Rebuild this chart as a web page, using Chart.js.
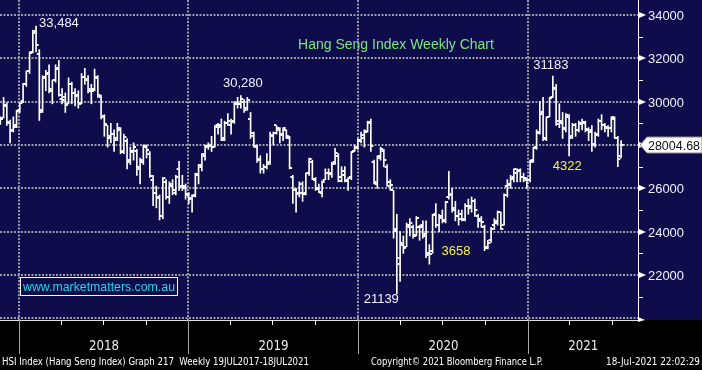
<!DOCTYPE html>
<html>
<head>
<meta charset="utf-8">
<script src="https://cdn.jsdelivr.net/npm/chart.js@4.4.1/dist/chart.umd.min.js"></script>
<style>
    html, body { margin: 0; padding: 0; background: #000; }
    canvas { display: block; }
</style>
</head>
<body>
<canvas id="hsi-chart" width="702" height="370"></canvas>
<script>
// Hang Seng weekly bars, first bar = week ending 17 Nov 2017, last = 16 Jul 2021
var firstWeek = '2017-11-17';

var opens = [
    29150, 29250, 29800, 29000, 28700, 28900, 29600, 30050, 30800, 31400,
    32300, 33250, 32200, 29600, 31100, 31300, 30500, 31000, 31550, 30100,
    30200, 29900, 30800, 30400, 30300, 29900, 31150, 31000, 30500, 30600,
    31100, 30200, 29300, 28900, 28400, 28500, 28300, 28700, 27700, 28200,
    27300, 27700, 27700, 26900, 27200, 27900, 27600, 26400, 25800, 25600,
    24700, 26300, 25600, 26100, 25800, 26900, 26100, 26000, 25700, 25550,
    25700, 26600, 27000, 27500, 27950, 28000, 27900, 28900, 28900, 28300,
    29000, 28900, 29100, 29900, 29900, 30000, 29700, 29200, 28400, 27900,
    27300, 26900, 27000, 27200, 28400, 28900, 28700, 28500, 28700, 28300,
    26500, 25900, 25800, 25800, 25800, 26700, 27200, 26400, 26000, 25800,
    26400, 26700, 26700, 27200, 27500, 26500, 26800, 26400, 26500, 27700,
    27900, 28200, 28300, 28600, 29000, 27200, 26200, 27500, 27700, 27000,
    26300, 25900, 24100, 22500, 23400, 23300, 24200, 24200, 23800, 24200,
    24300, 23900, 23000, 23100, 24800, 24300, 24700, 24500, 25600, 25700,
    25000, 24700, 24800, 24600, 25200, 25200, 25400, 24700, 24600, 24200,
    23300, 23600, 24300, 24500, 24900, 24300, 26100, 26200, 26500, 26700,
    26800, 26500, 26400, 26400, 27300, 27900, 28600, 29500, 28300, 29300,
    30200, 30600, 29100, 29000, 28800, 29300, 28400, 28900, 28700, 29000,
    29000, 28700, 28700, 28000, 28500, 29100, 28900, 28800, 28800, 29200,
    28300, 27500
];
var highs = [
    29300, 30200, 29950, 29150, 29300, 29600, 29950, 30850, 31420, 32300,
    33300, 33484, 32400, 31200, 31450, 31700, 31000, 31700, 31900, 30600,
    30400, 31100, 30900, 30600, 30500, 31300, 31540, 31200, 30800, 31500,
    31200, 30300, 29400, 28900, 29000, 28700, 29000, 28800, 28500, 28300,
    27900, 28100, 27800, 27400, 28000, 28000, 27700, 26600, 26100, 25700,
    26500, 26400, 26300, 26400, 26600, 27250, 26600, 26200, 25800, 25700,
    26700, 27100, 27600, 28000, 28100, 28400, 28900, 29000, 29200, 29100,
    29450, 29200, 30000, 30200, 30280, 30100, 30200, 29500, 28600, 28000,
    27500, 27100, 27600, 28600, 28600, 28900, 28800, 28800, 28700, 28400,
    26600, 26000, 26300, 26300, 26700, 27400, 27300, 26500, 26200, 26350,
    26900, 26900, 27200, 27850, 27600, 27000, 27000, 26500, 27700, 28000,
    28300, 28600, 28700, 29100, 29200, 27300, 27500, 27900, 27800, 27100,
    26400, 25900, 24800, 24000, 23800, 24400, 24600, 24300, 24700, 24300,
    24500, 24500, 23400, 24800, 25300, 24800, 25000, 25400, 26782, 26000,
    25400, 25000, 25000, 25300, 25500, 25600, 25500, 24800, 24700, 24300,
    23600, 24200, 24600, 24950, 24900, 25750, 26400, 26600, 26900, 26900,
    26900, 26700, 26500, 27300, 27900, 28700, 30000, 30200, 29300, 30200,
    31183, 30800, 29900, 29500, 29450, 29400, 29000, 29000, 29100, 29200,
    29100, 28800, 28900, 28600, 29200, 29400, 29000, 28900, 29300, 29300,
    28400, 28200
];
var lows = [
    28950, 29250, 28900, 28100, 28600, 28800, 29500, 29950, 30700, 31300,
    32250, 32300, 29129, 29500, 30500, 30400, 29900, 30900, 30250, 29900,
    29500, 29900, 29900, 29800, 29700, 29900, 30800, 30400, 29900, 30500,
    30200, 29200, 28400, 27900, 28100, 27700, 28200, 27600, 27600, 26900,
    27100, 27300, 26600, 26200, 27100, 27400, 26500, 25200, 25100, 24540,
    24600, 25500, 25300, 25700, 25700, 25900, 25900, 25500, 25300, 24900,
    25600, 26200, 26800, 27300, 27800, 27700, 27900, 28500, 28200, 28200,
    28900, 28500, 29000, 29700, 29700, 29500, 29600, 28300, 27900, 27200,
    26700, 26700, 26900, 27100, 28000, 28500, 28100, 28200, 28300, 26900,
    25300, 24900, 25600, 25400, 25700, 26600, 26400, 25900, 25800, 25600,
    26400, 26400, 26500, 27100, 26300, 26300, 26300, 25900, 26400, 27700,
    27800, 28100, 27900, 28600, 27700, 26200, 26000, 27300, 27000, 26100,
    25900, 23700, 21139, 21700, 23000, 23300, 23800, 23700, 23800, 23600,
    23700, 22800, 22500, 23000, 24200, 24000, 24400, 24400, 25500, 24900,
    24500, 24300, 24500, 24500, 24800, 24900, 24700, 24200, 24200, 23124,
    23200, 23500, 24100, 24300, 24100, 24300, 25600, 26000, 26300, 26300,
    26300, 26300, 26000, 26300, 27200, 27800, 28500, 28200, 28200, 29300,
    30200, 28900, 28800, 28300, 28600, 27500, 28300, 28400, 28600, 28700,
    28600, 28200, 27700, 27900, 28400, 28700, 28600, 28400, 28600, 28300,
    27000, 27400
];
var closes = [
    29200, 29866, 29074, 28640, 28848, 29578, 29919, 30814, 31412, 32254,
    33154, 32601, 29507, 31115, 31267, 30583, 30996, 31502, 30309, 30093,
    29844, 30808, 30418, 30281, 29927, 31122, 31048, 30588, 30492, 31158,
    30309, 29338, 28955, 28316, 28525, 28224, 28804, 27676, 28367, 27213,
    27672, 27889, 26973, 27286, 27953, 27788, 26573, 25801, 25561, 24717,
    26486, 25601, 26183, 25928, 26506, 26063, 26094, 25753, 25504, 25626,
    26667, 27090, 27569, 27930, 27946, 27900, 28816, 28812, 28228, 29012,
    29113, 29051, 29936, 29909, 30124, 29605, 30081, 28550, 27946, 27353,
    26901, 26965, 27118, 28473, 28543, 28775, 28471, 28765, 28397, 26919,
    25939, 25734, 26179, 25725, 26691, 27352, 26435, 25955, 25821, 26308,
    26720, 26667, 27100, 27651, 26327, 26595, 26346, 26498, 27688, 27871,
    28225, 28452, 28638, 29056, 27950, 26313, 27404, 27816, 27309, 26130,
    26146, 24032, 22805, 23484, 23236, 24300, 24380, 23831, 24643, 24230,
    23797, 22930, 22961, 24770, 24301, 24644, 24549, 25373, 25727, 25089,
    24705, 24595, 24531, 25183, 25113, 25422, 25007, 24503, 24455, 23235,
    23459, 24119, 24386, 24918, 24107, 25712, 26156, 26451, 26894, 26835,
    26506, 26498, 26387, 27231, 27878, 28573, 29447, 28284, 29289, 30173,
    30644, 28980, 29098, 28740, 29405, 28336, 28939, 28699, 28970, 29078,
    28725, 28610, 28027, 28458, 29124, 28918, 28842, 28801, 29288, 28310,
    27344, 28004.68
];

var yearLabels = ['2018', '2019', '2020', '2021'];
var priceTicks = [22000, 24000, 26000, 28000, 30000, 32000, 34000];
var minorTicks = [21000, 23000, 25000, 27000, 29000, 31000, 33000];
var gridValues = [20000, 22000, 24000, 26000, 28000, 30000, 32000, 34000];
var lastPrice = 28004.68;

var chartTitle = 'Hang Seng Index Weekly Chart';
var website = 'www.marketmatters.com.au';
var footerLeft = 'HSI Index (Hang Seng Index) Graph 217  Weekly 19JUL2017-18JUL2021';
var footerMid = 'Copyright\u00A9 2021 Bloomberg Finance L.P.';
var footerRight = '18-Jul-2021 22:02:29';

var NAVY = '#0f0c4b';
var FONT = '"Liberation Sans", Arial, sans-serif';
var NARROW = '"Liberation Sans Narrow", "DejaVu Sans Condensed", "Liberation Sans", sans-serif';

// bloomberg draws each bar a little right of its friday date
function weekPos(dateStr) {
    return (Date.parse(dateStr) - Date.parse(firstWeek)) / (7 * 864e5) - 0.75;
}

var barData = [];
for (var i = 0; i < opens.length; i++) {
    barData.push({ x: i, y: [lows[i], highs[i]] });
}

// background + dotted grid
var backdrop = {
    id: 'backdrop',
    beforeDraw: function (chart) {
        var ctx = chart.ctx, area = chart.chartArea;
        var xs = chart.scales.x, ys = chart.scales.y;
        ctx.save();
        ctx.fillStyle = '#000';
        ctx.fillRect(0, 0, chart.width, chart.height);
        ctx.fillStyle = NAVY;
        ctx.fillRect(0, 0, chart.width, area.bottom);

        ctx.strokeStyle = '#9a9aa4';
        ctx.lineWidth = 2;
        ctx.setLineDash([2, 1.5]);
        gridValues.forEach(function (v) {
            var y = Math.round(ys.getPixelForValue(v));
            ctx.beginPath();
            ctx.moveTo(area.left, y);
            ctx.lineTo(area.right, y);
            ctx.stroke();
        });
        yearLabels.forEach(function (yr) {
            var x = Math.round(xs.getPixelForValue(weekPos(yr + '-01-01')));
            ctx.beginPath();
            ctx.moveTo(x, area.top);
            ctx.lineTo(x, area.bottom);
            ctx.stroke();
        });
        ctx.restore();
    }
};

// open / close ticks
var ohlcTicks = {
    id: 'ohlcTicks',
    afterDatasetsDraw: function (chart) {
        var ctx = chart.ctx, area = chart.chartArea;
        var xs = chart.scales.x, ys = chart.scales.y;
        ctx.save();
        ctx.beginPath();
        ctx.rect(area.left, area.top, area.right - area.left, area.bottom - area.top);
        ctx.clip();
        ctx.fillStyle = '#ffffff';
        for (var i = 0; i < opens.length; i++) {
            var x = xs.getPixelForValue(i);
            var yo = Math.round(ys.getPixelForValue(opens[i]));
            var yc = Math.round(ys.getPixelForValue(closes[i]));
            ctx.fillRect(x - 2.5, yo - 1, 2, 2);
            ctx.fillRect(x + 0.5, yc - 1, 2, 2);
        }
        ctx.restore();
    }
};

// axes, labels, notes, footer
var decorations = {
    id: 'decorations',
    afterDraw: function (chart) {
        var ctx = chart.ctx, area = chart.chartArea;
        var xs = chart.scales.x, ys = chart.scales.y;
        ctx.save();

        // right axis
        ctx.strokeStyle = '#ffffff';
        ctx.lineWidth = 1;
        ctx.beginPath();
        ctx.moveTo(area.right + 0.5, 0);
        ctx.lineTo(area.right + 0.5, area.bottom);
        ctx.stroke();
        minorTicks.forEach(function (v) {
            var y = Math.round(ys.getPixelForValue(v)) + 0.5;
            ctx.beginPath();
            ctx.moveTo(area.right, y);
            ctx.lineTo(area.right + 5, y);
            ctx.stroke();
        });
        ctx.font = '13px ' + FONT;
        ctx.textBaseline = 'middle';
        ctx.textAlign = 'left';
        priceTicks.forEach(function (v) {
            var y = Math.round(ys.getPixelForValue(v));
            ctx.fillStyle = '#ffffff';
            ctx.beginPath();
            ctx.moveTo(area.right + 1, y - 3);
            ctx.lineTo(area.right + 8, y);
            ctx.lineTo(area.right + 1, y + 3);
            ctx.closePath();
            ctx.fill();
            ctx.fillStyle = '#eef3ff';
            ctx.fillText(String(v), area.right + 10, y + 1, 36);
        });

        // last price flag
        var yl = Math.round(ys.getPixelForValue(lastPrice));
        ctx.fillStyle = '#ffffff';
        ctx.strokeStyle = '#8a8a8a';
        ctx.beginPath();
        ctx.moveTo(area.right + 2, yl);
        ctx.lineTo(area.right + 9, yl - 8);
        ctx.lineTo(chart.width, yl - 8);
        ctx.lineTo(chart.width, yl + 8);
        ctx.lineTo(area.right + 9, yl + 8);
        ctx.closePath();
        ctx.fill();
        ctx.stroke();
        ctx.fillStyle = '#111111';
        ctx.fillText(lastPrice.toFixed(2), area.right + 10, yl + 1, 52);

        // bottom axis
        ctx.strokeStyle = '#e0e0e0';
        ctx.beginPath();
        ctx.moveTo(0, area.bottom + 0.5);
        ctx.lineTo(area.right, area.bottom + 0.5);
        ctx.stroke();
        ctx.fillStyle = '#ffffff';
        ctx.beginPath();
        ctx.moveTo(area.right, area.bottom - 3);
        ctx.lineTo(area.right + 7, area.bottom);
        ctx.lineTo(area.right, area.bottom + 2);
        ctx.closePath();
        ctx.fill();

        var bounds = [];
        ['2017', '2018', '2019', '2020', '2021'].forEach(function (yr) {
            ['-04-01', '-07-01', '-10-01'].forEach(function (md) {
                var p = weekPos(yr + md);
                if (p < xs.min || p > xs.max) return;
                var x = Math.round(xs.getPixelForValue(p)) + 0.5;
                ctx.strokeStyle = '#ffffff';
                ctx.beginPath();
                ctx.moveTo(x, area.bottom);
                ctx.lineTo(x, area.bottom + 5);
                ctx.stroke();
            });
        });
        yearLabels.forEach(function (yr) {
            var x = Math.round(xs.getPixelForValue(weekPos(yr + '-01-01'))) + 0.5;
            bounds.push(x);
            ctx.strokeStyle = '#a8a8a8';
            ctx.beginPath();
            ctx.moveTo(x, area.bottom);
            ctx.lineTo(x, area.bottom + 34);
            ctx.stroke();
        });
        bounds.push(area.right);
        ctx.font = '14px ' + NARROW;
        ctx.textAlign = 'center';
        ctx.fillStyle = '#ececec';
        yearLabels.forEach(function (yr, i) {
            ctx.fillText(yr, (bounds[i] + bounds[i + 1]) / 2, area.bottom + 26, 30);
        });

        // price notes
        ctx.font = '13px ' + FONT;
        ctx.fillStyle = '#eef4ff';
        ctx.textAlign = 'left';
        ctx.fillText('33,484', xs.getPixelForValue(11) + 3, ys.getPixelForValue(33484) - 3);
        ctx.textAlign = 'center';
        ctx.fillText('30,280', xs.getPixelForValue(74) + 2, ys.getPixelForValue(30280) - 12);
        ctx.fillText('31183', xs.getPixelForValue(170) - 2, ys.getPixelForValue(31183) - 11);
        ctx.textAlign = 'right';
        ctx.fillText('21139', xs.getPixelForValue(122) + 2, ys.getPixelForValue(21139) + 6);
        ctx.textAlign = 'center';
        ctx.fillStyle = '#f4f43a';
        ctx.fillText('3658', xs.getPixelForValue(140.2), ys.getPixelForValue(23100));
        ctx.fillText('4322', xs.getPixelForValue(174.4), ys.getPixelForValue(27030));

        // title + website box
        ctx.font = '14px ' + FONT;
        ctx.fillStyle = '#7ce67c';
        ctx.fillText(chartTitle, 396, 45);
        ctx.strokeStyle = '#ffffff';
        ctx.strokeRect(20.5, 277.5, 157, 18);
        ctx.font = '13px ' + FONT;
        ctx.fillStyle = '#20d6e8';
        ctx.textAlign = 'left';
        ctx.fillText(website, 23, 287, 152);

        // footer
        ctx.font = '11px ' + NARROW;
        ctx.fillStyle = '#ffffff';
        ctx.fillText(footerLeft, 2, 362, 307);
        ctx.fillText(footerMid, 371, 362, 172);
        ctx.textAlign = 'right';
        ctx.fillText(footerRight, 700, 362, 94);
        ctx.restore();
    }
};

var hsiChart = new Chart(document.getElementById('hsi-chart'), {
    type: 'bar',
    data: {
        datasets: [{
            data: barData,
            backgroundColor: '#ffffff',
            borderWidth: 0,
            barThickness: 1
        }]
    },
    options: {
        responsive: false,
        animation: false,
        events: [],
        layout: { padding: 0 },
        scales: {
            x: {
                type: 'linear',
                min: -0.1,
                max: 196.2,
                offset: false,
                grid: { display: false },
                border: { display: false },
                ticks: { display: false },
                afterFit: function (scale) { scale.height = 50; }
            },
            y: {
                position: 'right',
                min: 19922,
                max: 34692,
                grid: { display: false },
                border: { display: false },
                ticks: { display: false },
                afterFit: function (scale) { scale.width = 64; }
            }
        },
        plugins: {
            legend: { display: false },
            tooltip: { enabled: false }
        }
    },
    plugins: [backdrop, ohlcTicks, decorations]
});
</script>
</body>
</html>
